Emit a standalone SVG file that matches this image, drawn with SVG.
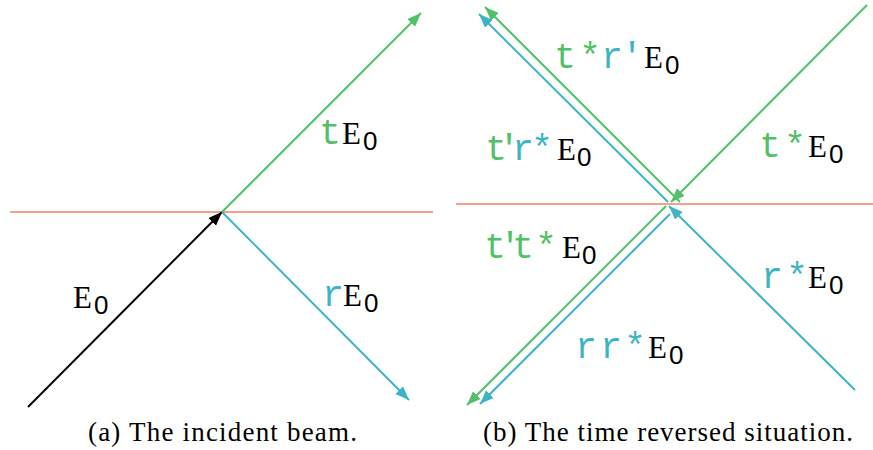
<svg xmlns="http://www.w3.org/2000/svg" width="873" height="450" viewBox="0 0 873 450">
<style>
  .ln{fill:none;stroke-width:2}
  .k{stroke:#000}
  .g{stroke:#52c068}
  .c{stroke:#3db4c3}
  .o{stroke:#f4a08b}
  .tt{font-family:"Liberation Mono",monospace;font-size:36px;text-anchor:middle}
  .rm{font-family:"Liberation Serif",serif;font-size:31px;fill:#000}
  .sub{font-family:"Liberation Sans",sans-serif;font-size:26px;fill:#000}
  .fg{fill:#52c068}
  .fc{fill:#3db4c3}
  .cap{font-family:"Liberation Serif",serif;font-size:27px;fill:#000}
</style>
<defs>
  <marker id="ak" markerUnits="userSpaceOnUse" markerWidth="15" markerHeight="12" refX="14" refY="5.5" orient="auto"><path d="M0,0 L14,5.5 L0,11 z" fill="#000"/></marker>
  <marker id="ag" markerUnits="userSpaceOnUse" markerWidth="15" markerHeight="12" refX="14" refY="5.5" orient="auto"><path d="M0,0 L14,5.5 L0,11 z" fill="#52c068"/></marker>
  <marker id="ac" markerUnits="userSpaceOnUse" markerWidth="15" markerHeight="12" refX="14" refY="5.5" orient="auto"><path d="M0,0 L14,5.5 L0,11 z" fill="#3db4c3"/></marker>
</defs>

<g id="connectors">
  <line class="ln o" x1="10" y1="212" x2="433" y2="212"/>
  <line class="ln k" x1="28" y1="407" x2="222" y2="212" marker-end="url(#ak)"/>
  <line class="ln g" x1="222" y1="212" x2="421" y2="13" marker-end="url(#ag)"/>
  <line class="ln c" x1="222" y1="212" x2="409" y2="400" marker-end="url(#ac)"/>
  <line class="ln o" x1="456" y1="204" x2="873" y2="204"/>
  <line class="ln g" x1="867" y1="5" x2="671" y2="202" marker-end="url(#ag)"/>
  <line class="ln c" x1="855" y1="390" x2="669" y2="206" marker-end="url(#ac)"/>
  <line class="ln g" x1="680" y1="202" x2="485" y2="7" marker-end="url(#ag)"/>
  <line class="ln c" x1="668" y1="202" x2="479" y2="14" marker-end="url(#ac)"/>
  <line class="ln g" x1="666" y1="206" x2="467" y2="405" marker-end="url(#ag)"/>
  <line class="ln c" x1="670" y1="214" x2="480" y2="404" marker-end="url(#ac)"/>
</g>

<g id="label-E0">
  <text class="rm" x="73" y="308">E</text>
  <text class="sub" x="94" y="314">0</text>
</g>
<g id="label-tE0">
  <text class="tt fg" x="330" y="144">t</text>
  <text class="rm" x="342" y="144">E</text>
  <text class="sub" x="363" y="150">0</text>
</g>
<g id="label-rE0">
  <text class="tt fc" x="333" y="306">r</text>
  <text class="rm" x="343" y="306">E</text>
  <text class="sub" x="364" y="312">0</text>
</g>

<g id="label-tsrpE0">
  <text class="tt" y="68"><tspan class="fg" x="565 590">t*</tspan><tspan class="fc" x="612 632">r'</tspan></text>
  <text class="rm" x="644" y="68">E</text>
  <text class="sub" x="665" y="74">0</text>
</g>
<g id="label-tprsE0">
  <text class="tt" y="160"><tspan class="fg" x="496 509">t'</tspan><tspan class="fc" x="523 542">r*</tspan></text>
  <text class="rm" x="557" y="160">E</text>
  <text class="sub" x="577" y="166">0</text>
</g>
<g id="label-tsE0">
  <text class="tt fg" x="770 795" y="157">t*</text>
  <text class="rm" x="808" y="157">E</text>
  <text class="sub" x="829" y="163">0</text>
</g>
<g id="label-tptsE0">
  <text class="tt fg" x="495 510 523 546" y="258">t't*</text>
  <text class="rm" x="562" y="258">E</text>
  <text class="sub" x="582" y="264">0</text>
</g>
<g id="label-rsE0">
  <text class="tt fc" x="772 797" y="288">r*</text>
  <text class="rm" x="808" y="288">E</text>
  <text class="sub" x="829" y="294">0</text>
</g>
<g id="label-rrsE0">
  <text class="tt fc" x="586 611 635" y="358">rr*</text>
  <text class="rm" x="648" y="358">E</text>
  <text class="sub" x="669" y="364">0</text>
</g>

<g id="captions">
  <text class="cap" x="88" y="441" textLength="269" lengthAdjust="spacing">(a) The incident beam.</text>
  <text class="cap" x="483" y="441" textLength="370" lengthAdjust="spacing">(b) The time reversed situation.</text>
</g>
</svg>
